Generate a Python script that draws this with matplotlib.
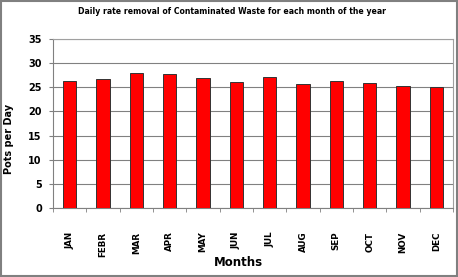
import numpy as np
import matplotlib.pyplot as plt

months = ['JAN', 'FEBR', 'MAR', 'APR', 'MAY', 'JUN', 'JUL', 'AUG', 'SEP', 'OCT', 'NOV', 'DEC']
pots_per_day = [26.4, 26.7, 28.0, 27.7, 27.0, 26.0, 27.1, 25.7, 26.3, 25.8, 25.2, 25.0]
yticks = [0, 5, 10, 15, 20, 25, 30, 35]

fig = plt.figure(figsize=(4.58, 2.77), dpi=100)
ax = fig.add_axes([53 / 458, 1 - 208 / 277, 400 / 458, 169 / 277])

x = np.arange(len(months))
ax.bar(x, pots_per_day, width=0.4, color='#ff0000', edgecolor='#333333', linewidth=0.7, zorder=3)

ax.set_xlim(-0.5, len(months) - 0.5)
ax.set_ylim(0, 35)
ax.set_yticks(yticks)
ax.set_yticklabels([str(v) for v in yticks], fontsize=7, fontweight='bold')
ax.yaxis.grid(True, color='#808080', linewidth=0.8, zorder=0)

ax.set_xticks(x)
ax.set_xticklabels(months, rotation=90, fontsize=6.3, fontweight='bold')
ax.tick_params(axis='x', length=0, pad=17)
ax.set_xticks(np.arange(len(months) + 1) - 0.5, minor=True)
ax.tick_params(axis='x', which='minor', length=3, color='#808080', direction='out')
ax.tick_params(axis='y', length=3, color='#808080', pad=5)

for side in ['top', 'right']:
    ax.spines[side].set_color('#a0a0a0')
for side in ['left', 'bottom']:
    ax.spines[side].set_color('#808080')

fig.text(238 / 458, 1 - 262 / 277, 'Months', ha='center', va='center', fontsize=8.5, fontweight='bold')
fig.text(9 / 458, 1 - 139 / 277, 'Pots per Day', ha='center', va='center', rotation=90,
         fontsize=7, fontweight='bold')
fig.text(232 / 458, 1 - 11 / 277, 'Daily rate removal of Contaminated Waste for each month of the year',
         ha='center', va='center', fontsize=5.6, fontweight='bold')

fig.patches.append(plt.Rectangle((0.002, 0.004), 0.995, 0.992, transform=fig.transFigure,
                                 fill=False, edgecolor='#808080', linewidth=1.5))

fig.savefig('out.png', dpi=100)
